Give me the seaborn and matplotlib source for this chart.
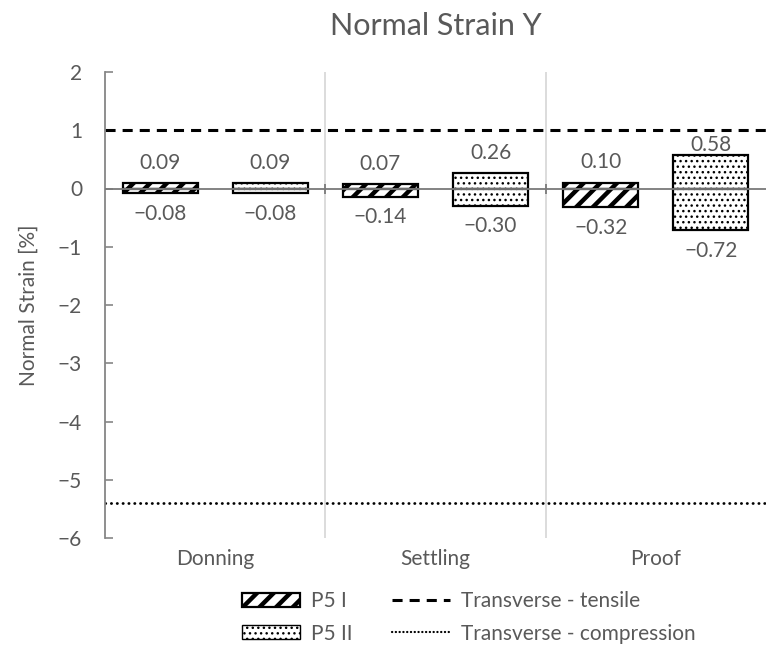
import matplotlib
matplotlib.use("Agg")
import matplotlib.pyplot as plt
import seaborn as sns
import pandas as pd
from matplotlib.patches import Patch
from matplotlib.lines import Line2D

categories = ["Donning", "Settling", "Proof"]
series = ["P5 I", "P5 II"]
p5i_max = [0.09, 0.07, 0.10]
p5i_min = [-0.08, -0.14, -0.32]
p5ii_max = [0.09, 0.26, 0.58]
p5ii_min = [-0.08, -0.30, -0.72]
tensile_limit = 1.0
compression_limit = -5.4
yticks = [-6, -5, -4, -3, -2, -1, 0, 1, 2]

sns.set_theme(style="white")
plt.rcParams["font.family"] = ["Lato", "DejaVu Sans"]
TXT = "#595959"
AX = "#868686"
FS = 15

HATCH_LW = {0: 3.2, 1: 1.0}
HATCH = {0: "//", 1: "..."}


def set_hlw(p, lw):
    try:
        p.set_hatch_linewidth(lw)
    except Exception:
        pass


df_max = pd.DataFrame({"Phase": categories * 2,
                       "Series": [series[0]] * 3 + [series[1]] * 3,
                       "Value": p5i_max + p5ii_max})
df_min = pd.DataFrame({"Phase": categories * 2,
                       "Series": [series[0]] * 3 + [series[1]] * 3,
                       "Value": p5i_min + p5ii_min})

fig = plt.figure(figsize=(7.66, 6.54), dpi=100)
ax = fig.add_axes([105 / 766, 1 - 538 / 654, 1 - 105 / 766, (538 - 72) / 654])

for d in (df_max, df_min):
    sns.barplot(data=d, x="Phase", y="Value", hue="Series", order=categories,
                hue_order=series, width=1.0, gap=0.32, ax=ax, legend=False,
                palette=["white", "white"], saturation=1, edgecolor="black",
                linewidth=1.6, errorbar=None, zorder=3)

for i, cont in enumerate(ax.containers):
    s = i % 2
    for p in cont.patches:
        p.set_hatch(HATCH[s])
        p.set_facecolor("white")
        p.set_edgecolor("black")
        set_hlw(p, HATCH_LW[s])

# value labels (centre ~20 px from bar end, kept below the tensile line)
for i, cont in enumerate(ax.containers):
    top = i < 2
    for p in cont.patches:
        h = p.get_height()
        x = p.get_x() + p.get_width() / 2
        if top:
            y = min(h + 0.35, tensile_limit - 0.26)
        else:
            y = h - 0.35
        txt = f"{h:.2f}".replace("-", "\u2212")
        ax.text(x, y, txt, ha="center", va="center", fontsize=FS, color=TXT,
                zorder=5)

ax.axhline(tensile_limit, color="black", lw=2.2, ls=(0, (3.3, 2.3)), zorder=2)
ax.axhline(compression_limit, color="black", lw=2.0, ls=(0, (0.1, 2.0)),
           dash_capstyle="round", zorder=2)
ax.axhline(0, color="#7a7a7a", lw=1.3, zorder=4)
for b in [0.5, 1.5]:
    ax.axvline(b, color="#d9d9d9", lw=1.3, zorder=1)
ax.plot([0.5, 1.5], [0, 0], ls="", marker="|", ms=7, mew=1.3, color="#7a7a7a",
        zorder=4)

ax.set_xlim(-0.5, 2.5)
ax.set_ylim(-6, 2)
ax.set_yticks(yticks)
ax.set_yticklabels([str(v).replace("-", "\u2212") for v in yticks])
ax.tick_params(axis="y", direction="in", length=6, width=1.2, color=AX,
               labelsize=FS, labelcolor=TXT, pad=16.5, left=True)
ax.tick_params(axis="x", length=0, labelsize=FS, labelcolor=TXT, pad=8)
for side in ["top", "right", "bottom"]:
    ax.spines[side].set_visible(False)
ax.spines["left"].set_color(AX)
ax.spines["left"].set_linewidth(1.3)
ax.set_xlabel("")
ax.set_ylabel("Normal Strain [%]", fontsize=FS, color=TXT, labelpad=14)
ax.set_title("Normal Strain Y", fontsize=22, color=TXT, pad=26.5)

handles = [
    Patch(facecolor="white", edgecolor="black", hatch=HATCH[0], lw=1.6, label="P5 I"),
    Patch(facecolor="white", edgecolor="black", hatch=HATCH[1], lw=1.0, label="P5 II"),
    Line2D([], [], color="black", lw=2.2, ls=(0, (3.3, 2.3)), label="Transverse - tensile"),
    Line2D([], [], color="black", lw=1.6, ls=(0, (0.1, 1.6)), dash_capstyle="round",
           label="Transverse - compression"),
]
leg = fig.legend(handles=handles, ncol=2, loc="upper left",
                 bbox_to_anchor=(242 / 766, 1 - 591 / 654), frameon=False,
                 fontsize=FS, handlelength=2.8, handleheight=0.65,
                 columnspacing=1.9, handletextpad=0.5, labelspacing=0.6,
                 borderpad=0, borderaxespad=0)
for t in leg.get_texts():
    t.set_color(TXT)
for j, p in enumerate(leg.get_patches()):
    set_hlw(p, HATCH_LW[j])

fig.savefig("out.png", dpi=100)
